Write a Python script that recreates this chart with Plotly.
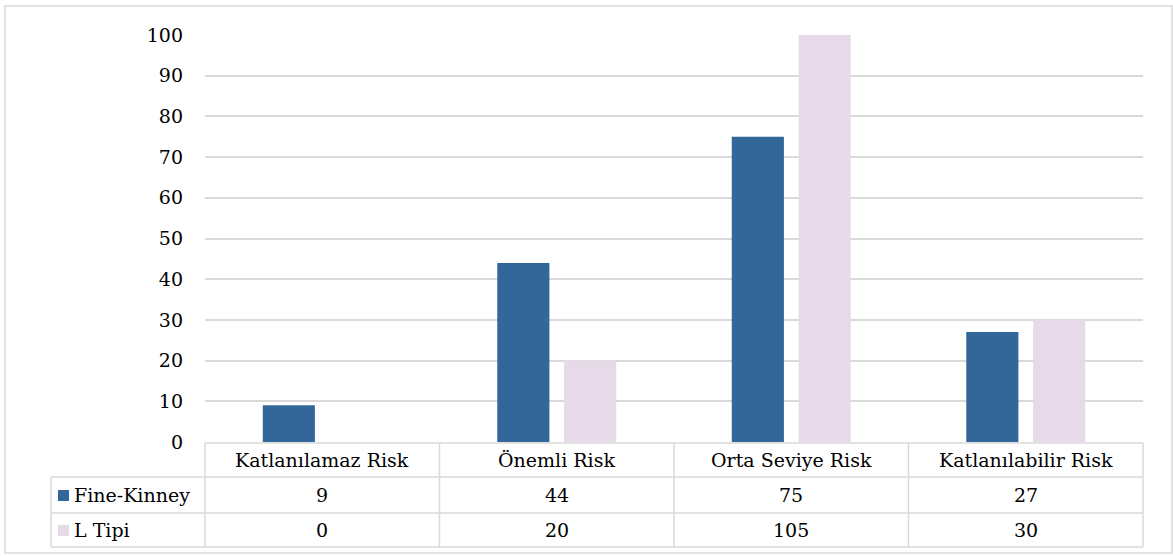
import plotly.graph_objects as go

# Risk categories and the number of risks found by each method
categories = ["Katlanılamaz Risk", "Önemli Risk", "Orta Seviye Risk", "Katlanılabilir Risk"]
fine_kinney = [9, 44, 75, 27]
l_tipi = [0, 20, 105, 30]
series_names = ["Fine-Kinney", "L Tipi"]
y_ticks = list(range(0, 101, 10))

colors = ["#336699", "#E7DAE8"]
grid_color = "#D9D9D9"
font_family = "DejaVu Serif"
fs = 19

W_FIG, H_FIG = 1173, 556
L, R, T, B = 205, 1143, 35, 442
PW, PH = R - L, B - T


def px(x):
    return (x - L) / PW


def py(y):
    return (B - y) / PH


fig = go.Figure()
for name, vals, col in zip(series_names, [fine_kinney, l_tipi], colors):
    fig.add_trace(go.Bar(x=categories, y=vals, name=name, marker=dict(color=col, line=dict(width=0))))

shapes = []


def hline(y, x0, x1):
    shapes.append(dict(type="line", xref="paper", yref="paper", x0=px(x0), x1=px(x1),
                       y0=py(y), y1=py(y), line=dict(color=grid_color, width=1.5)))


def vline(x, y0, y1):
    shapes.append(dict(type="line", xref="paper", yref="paper", x0=px(x), x1=px(x),
                       y0=py(y0), y1=py(y1), line=dict(color=grid_color, width=1.5)))


# outer chart border
shapes.append(dict(type="rect", xref="paper", yref="paper", x0=px(5), x1=px(1172),
                   y0=py(553), y1=py(6), line=dict(color=grid_color, width=1.5)))

# data table grid
row_y = [443, 477, 513, 547]
hline(row_y[0], L, R)
for y in row_y[1:]:
    hline(y, 51, R)
vline(51, row_y[1], row_y[3])
n = len(categories)
for i in range(n + 1):
    vline(L + PW * i / n, row_y[0], row_y[3])

txt_font = dict(family=font_family, size=fs, color="#000")
annotations = []
row_centers = [(row_y[i] + row_y[i + 1]) / 2 for i in range(3)]
for c in categories:
    annotations.append(dict(x=c, xref="x", y=py(row_centers[0]), yref="paper", text=c,
                            showarrow=False, xanchor="center", yanchor="middle", font=txt_font))
for r, (name, vals, col) in enumerate(zip(series_names, [fine_kinney, l_tipi], colors)):
    yc = row_centers[r + 1]
    for c, v in zip(categories, vals):
        annotations.append(dict(x=c, xref="x", y=py(yc), yref="paper", text=str(v),
                                showarrow=False, xanchor="center", yanchor="middle", font=txt_font))
    # legend key square and series name
    shapes.append(dict(type="rect", xref="paper", yref="paper", x0=px(58), x1=px(69),
                       y0=py(yc + 6), y1=py(yc - 5), fillcolor=col, line=dict(width=0)))
    annotations.append(dict(x=px(72), xref="paper", y=py(yc), yref="paper", text=name,
                            showarrow=False, xanchor="left", yanchor="middle", font=txt_font))

fig.update_layout(
    width=W_FIG, height=H_FIG,
    margin=dict(l=L, r=W_FIG - R, t=T, b=H_FIG - B, pad=0),
    paper_bgcolor="white", plot_bgcolor="white",
    barmode="group", bargap=0.43, bargroupgap=0.22,
    showlegend=False,
    shapes=shapes, annotations=annotations,
    font=txt_font,
    xaxis=dict(showticklabels=False, showgrid=False, zeroline=False, showline=False, ticks=""),
    yaxis=dict(range=[0, 100], tickvals=y_ticks, showgrid=True, gridcolor=grid_color, gridwidth=1.5,
               zeroline=False, showline=False, ticks="", ticklabelstandoff=21,
               tickfont=txt_font),
)

fig.write_html("out.html")
